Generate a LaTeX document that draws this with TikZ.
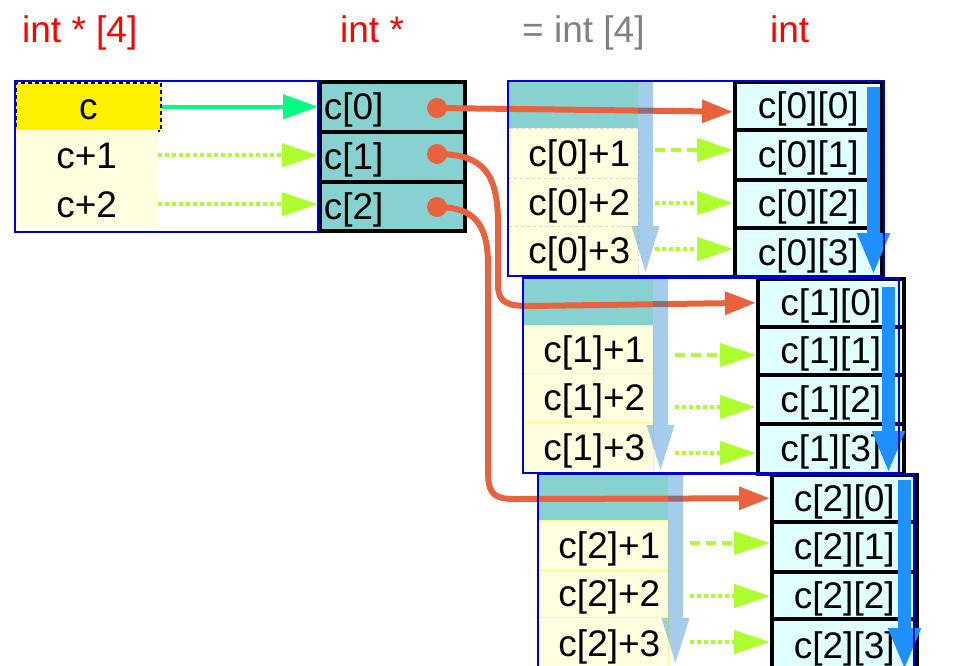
\documentclass[tikz,border=0pt]{standalone}
\usepackage{fontspec}
\setmainfont{Liberation Sans}
\usetikzlibrary{arrows.meta}
\definecolor{tealc}{RGB}{136,209,209}
\definecolor{lyel}{RGB}{255,255,224}
\definecolor{lcyan}{RGB}{224,255,255}
\definecolor{orangec}{RGB}{233,98,62}
\definecolor{springc}{RGB}{0,255,128}
\definecolor{gyel}{RGB}{173,255,47}
\definecolor{dblue}{RGB}{30,144,255}
\definecolor{lbc}{RGB}{12,120,201}
\definecolor{boxblue}{RGB}{0,0,204}
\newcommand\bigfont{\fontsize{37}{40}\selectfont}
\begin{document}
\begin{tikzpicture}[x=1pt,y=-1pt,
  base/.style={rectangle, anchor=north west, inner ysep=0pt, text height=26pt, text depth=0pt, font=\bigfont},
  ycell/.style={base, fill=lyel, inner xsep=0pt},
  pcell/.style={base, fill=tealc, draw=black, line width=3.5pt, text width=137pt, align=left, inner xsep=4pt},
  lcell/.style={base, fill=lyel, text width=115pt, align=right, inner xsep=8pt},
  rcell/.style={base, fill=lcyan, draw=black, line width=3.5pt, inner xsep=0pt},
  bluebox/.style={rectangle, anchor=north west, draw=boxblue, line width=2pt, inner sep=0pt},
  head/.style={anchor=base west, font=\bigfont, inner sep=0pt},
  dot/.style={circle, fill=orangec, inner sep=0pt, minimum size=20pt},
  greenarr/.style={draw=springc, line width=4pt, -{Triangle[length=35pt,width=24pt]}},
  gydot/.style={draw=gyel, line width=4pt, dash pattern=on 4pt off 3pt, -{Triangle[length=36pt,width=23pt]}},
  gydash/.style={draw=gyel, line width=4pt, dash pattern=on 10pt off 6pt, -{Triangle[length=36pt,width=23pt]}},
  orarr/.style={draw=orangec, line width=6pt, -{Triangle[length=31pt,width=22pt]}},
  bluearr/.style={draw=dblue, line width=13pt, -{Triangle[length=42pt,width=30pt]}},
  lbarrow/.style={fill=lbc, fill opacity=0.37},
  sep0/.style={draw=gray!30, dashed, line width=0.6pt},
  sep1/.style={draw=yellow!45, line width=0.6pt}
]
\useasboundingbox (0,0) rectangle (968,665);
\clip (0,0) rectangle (968,665);

% headers
\node[head, text=red] (h1) at (22,42) {int * [4]};
\node[head, text=red] (h2) at (340,42) {int *};
\node[head, text=gray] (h3) at (522,42) {= int [4]};
\node[head, text=red] (h4) at (770,42) {int};

% box 1
\node[ycell, fill=yellow, draw=black, line width=1.5pt, dash pattern=on 4pt off 3pt, minimum width=145pt, minimum height=48pt] (c) at (15,82) {c};
\node[ycell, minimum width=143pt, minimum height=50pt] (c1) at (15,130) {c+1};
\node[ycell, minimum width=143pt, minimum height=48pt] (c2) at (15,180) {c+2};

% box 2
\node[pcell, minimum height=50pt] (p0) at (318,80) {c[0]};
\node[pcell, minimum height=50pt] (p1) at (318,130) {c[1]};
\node[pcell, minimum height=49pt] (p2) at (318,180) {c[2]};
\node[bluebox, minimum width=303pt, minimum height=151pt] (box1) at (14,80) {};

% group 0
\node[lcell, fill=tealc, minimum height=48pt] (g0t) at (507,80) {};
\node[lcell, sep0, minimum height=50pt] (g0a1) at (507,128) {c[0]+1};
\node[lcell, sep0, minimum height=48pt] (g0a2) at (507,178) {c[0]+2};
\node[lcell, sep0, minimum height=49pt] (g0a3) at (507,226) {c[0]+3};
\node[rcell, minimum width=147pt, minimum height=48pt] (g0e0) at (733,80) {c[0][0]};
\node[rcell, minimum width=147pt, minimum height=50pt] (g0e1) at (733,128) {c[0][1]};
\node[rcell, minimum width=147pt, minimum height=48pt] (g0e2) at (733,178) {c[0][2]};
\node[rcell, minimum width=147pt, minimum height=49pt] (g0e3) at (733,226) {c[0][3]};

% group 1
\node[lcell, fill=tealc, minimum height=48pt] (g1t) at (522,277) {};
\node[lcell, sep1, minimum height=48pt] (g1a1) at (522,325) {c[1]+1};
\node[lcell, sep1, minimum height=49pt] (g1a2) at (522,373) {c[1]+2};
\node[lcell, sep1, minimum height=50pt] (g1a3) at (522,422) {c[1]+3};
\node[rcell, minimum width=146pt, minimum height=48pt] (g1e0) at (756,277) {c[1][0]};
\node[rcell, minimum width=146pt, minimum height=48pt] (g1e1) at (756,325) {c[1][1]};
\node[rcell, minimum width=146pt, minimum height=49pt] (g1e2) at (756,373) {c[1][2]};
\node[rcell, minimum width=146pt, minimum height=50pt] (g1e3) at (756,422) {c[1][3]};

% group 2
\node[lcell, fill=tealc, minimum height=47pt] (g2t) at (537,473) {};
\node[lcell, sep1, minimum height=50pt] (g2a1) at (537,520) {c[2]+1};
\node[lcell, sep1, minimum height=47pt] (g2a2) at (537,570) {c[2]+2};
\node[lcell, sep1, minimum height=53pt] (g2a3) at (537,617) {c[2]+3};
\node[rcell, minimum width=145pt, minimum height=47pt] (g2e0) at (770,473) {c[2][0]};
\node[rcell, minimum width=145pt, minimum height=50pt] (g2e1) at (770,520) {c[2][1]};
\node[rcell, minimum width=145pt, minimum height=47pt] (g2e2) at (770,570) {c[2][2]};
\node[rcell, minimum width=145pt, minimum height=53pt] (g2e3) at (770,617) {c[2][3]};

% pointer arrows box1 -> box2
\draw[greenarr] (c.east) -- (c.east -| p0.west);
\draw[gydot] (c1.east) -- (c1.east -| p1.west);
\draw[gydot] (c2.east) -- (c2.east -| p2.west);

% green-yellow arrows in groups
\coordinate (s01) at (655,150); \coordinate (s02) at (655,203); \coordinate (s03) at (655,249);
\coordinate (s11) at (675,355); \coordinate (s12) at (675,407); \coordinate (s13) at (675,453);
\coordinate (s21) at (690,543); \coordinate (s22) at (690,596); \coordinate (s23) at (690,642);
\draw[gydash] (s01) -- (s01 -| g0e1.west);
\draw[gydot] (s02) -- (s02 -| g0e2.west);
\draw[gydot] (s03) -- (s03 -| g0e3.west);
\draw[gydash] (s11) -- (s11 -| g1e1.west);
\draw[gydot] (s12) -- (s12 -| g1e2.west);
\draw[gydot] (s13) -- (s13 -| g1e3.west);
\draw[gydash] (s21) -- (s21 -| g2e1.west);
\draw[gydot] (s22) -- (s22 -| g2e2.west);
\draw[gydot] (s23) -- (s23 -| g2e3.west);

% dots and orange arrows
\node[dot] (d0) at (437,108) {};
\node[dot] (d1) at (437,154) {};
\node[dot] (d2) at (437,207) {};
\draw[orarr] (d0.center) -- ([yshift=-6pt]g0e0.west);
\draw[orarr] (d1.center) .. controls (485,154) and (498,175) .. (498,225) -- (498,285)
  .. controls (498,303) and (508,306) .. (530,306) -- (g1e0.west);
\draw[orarr] (d2.center) .. controls (475,207) and (488,225) .. (488,265) -- (488,472)
  .. controls (488,496) and (496,499) .. (516,499) -- (g2e0.west);

% light-blue translucent arrows
\fill[lbarrow] (638,80) -- (653,80) -- (653,226) -- (659.5,226) -- (645.5,272) -- (631.5,226) -- (638,226) -- cycle;
\fill[lbarrow] (653,277) -- (668,277) -- (668,425) -- (674.5,425) -- (660.5,470) -- (646.5,425) -- (653,425) -- cycle;
\fill[lbarrow] (668,473) -- (683,473) -- (683,618) -- (689.5,618) -- (675.5,663) -- (661.5,618) -- (668,618) -- cycle;

% blue arrows
\coordinate (b0s) at (873.5,87); \coordinate (b0e) at (873.5,275);
\coordinate (b1s) at (888.5,287); \coordinate (b1e) at (888.5,473);
\coordinate (b2s) at (904.5,480); \coordinate (b2e) at (904.5,670);
\draw[bluearr] (b0s) -- (b0e);
\draw[bluearr] (b1s) -- (b1e);
\draw[bluearr] (b2s) -- (b2e);

% group outlines
\node[bluebox, minimum width=376pt, minimum height=195pt] (g0box) at (507,80) {};
\node[bluebox, minimum width=376pt, minimum height=195pt] (g1box) at (522,277) {};
\node[bluebox, minimum width=376pt, minimum height=220pt] (g2box) at (537,473) {};
\end{tikzpicture}
\end{document}
